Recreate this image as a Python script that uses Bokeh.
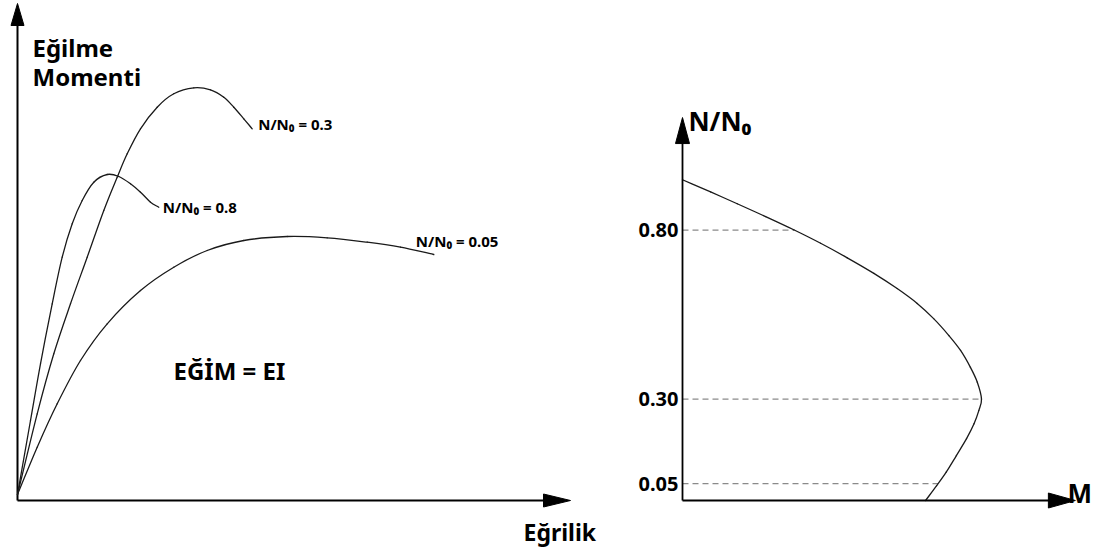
import numpy as np
from bokeh.plotting import figure
from bokeh.layouts import row
from bokeh.core.properties import value
from bokeh.embed import file_html
from bokeh.resources import INLINE

# ---------------- data: left panel (moment - curvature, schematic units) -------------
curv_03 = [0, 0.197, 0.363, 0.53, 0.697, 0.863, 0.997, 1.097, 1.23, 1.397, 1.563, 1.763, 1.93, 2.063, 2.163, 2.263, 2.347]
mom_03 = [0, 0.807, 1.407, 1.907, 2.373, 2.84, 3.173, 3.407, 3.657, 3.873, 4.007, 4.067, 4.047, 3.973, 3.873, 3.757, 3.657]

curv_08 = [0, 0.13, 0.23, 0.347, 0.447, 0.547, 0.647, 0.763, 0.897, 1.013, 1.13, 1.23, 1.33, 1.413]
mom_08 = [0, 0.74, 1.307, 1.907, 2.373, 2.707, 2.94, 3.123, 3.20, 3.18, 3.107, 3.023, 2.923, 2.873]

curv_005 = [0, 0.197, 0.397, 0.63, 0.897, 1.23, 1.563, 1.897, 2.263, 2.697, 3.097, 3.497, 3.83, 4.163]
mom_005 = [0, 0.473, 0.907, 1.34, 1.707, 2.04, 2.273, 2.44, 2.54, 2.58, 2.567, 2.523, 2.473, 2.40]

curve_labels = ["N/N₀ = 0.3", "N/N₀ = 0.8", "N/N₀ = 0.05"]

# ---------------- data: right panel (N/N0 - M interaction, schematic) ----------------
m_vals = [0, 0.094, 0.183, 0.278, 0.372, 0.462, 0.551, 0.640, 0.718, 0.785, 0.840, 0.891,
          0.930, 0.963, 0.986, 1.0, 0.991, 0.975, 0.950, 0.916, 0.882, 0.850, 0.813]
n_vals = [0.949, 0.913, 0.878, 0.840, 0.801, 0.761, 0.718, 0.672, 0.627, 0.583, 0.538, 0.488,
          0.444, 0.394, 0.350, 0.30, 0.266, 0.227, 0.183, 0.133, 0.084, 0.044, 0.0]
n_ticks = [0.05, 0.30, 0.80]
n_tick_labels = ["0.05", "0.30", "0.80"]

FONT = value("Noto Sans")
INK = "#1a1a1a"


def smooth_line(p, xs, ys, **kw):
    """Draw a smooth curve through the given points (Catmull-Rom as cubic Beziers)."""
    xs = np.asarray(xs, float)
    ys = np.asarray(ys, float)
    n = len(xs)
    xp = np.concatenate([[2 * xs[0] - xs[1]], xs, [2 * xs[-1] - xs[-2]]])
    yp = np.concatenate([[2 * ys[0] - ys[1]], ys, [2 * ys[-1] - ys[-2]]])
    cx0 = xs[:-1] + (xp[2:n + 1] - xp[0:n - 1]) / 6
    cy0 = ys[:-1] + (yp[2:n + 1] - yp[0:n - 1]) / 6
    cx1 = xs[1:] - (xp[3:n + 2] - xp[1:n]) / 6
    cy1 = ys[1:] - (yp[3:n + 2] - yp[1:n]) / 6
    p.bezier(x0=xs[:-1], y0=ys[:-1], x1=xs[1:], y1=ys[1:], cx0=cx0, cy0=cy0,
             cx1=cx1, cy1=cy1, line_cap="round", **kw)


def head(p, tx, ty, direction, length_px, width_px, sx, sy):
    if direction == "up":
        xs = [tx, tx - width_px / 2 / sx, tx + width_px / 2 / sx]
        ys = [ty, ty - length_px / sy, ty - length_px / sy]
    else:
        xs = [tx, tx - length_px / sx, tx - length_px / sx]
        ys = [ty, ty + width_px / 2 / sy, ty - width_px / 2 / sy]
    p.patch(xs, ys, fill_color="black", line_color="black", line_width=1)


def new_fig(w, h, xr, yr):
    f = figure(width=w, height=h, x_range=xr, y_range=yr, output_backend="svg",
               toolbar_location=None, x_axis_location=None, y_axis_location=None,
               min_border=0, tools="")
    f.grid.visible = False
    f.outline_line_color = None
    f.background_fill_color = "white"
    f.border_fill_color = "white"
    return f


# ---------------- left figure ----------------
LSX, LSY = 100.0, 100.0
p1 = new_fig(608, 548, (-0.17, 5.91), (-0.54, 4.94))

ax_y0 = -0.06
ytip, xtip = 4.91, 5.53
p1.line([0, 0], [ax_y0, ytip - 20 / LSY], line_color="black", line_width=2)
p1.line([0, xtip - 24 / LSX], [ax_y0, ax_y0], line_color="black", line_width=2)
head(p1, 0, ytip, "up", 22, 13, LSX, LSY)
head(p1, xtip, ax_y0, "right", 27, 13, LSX, LSY)

curves = [(curv_03, mom_03), (curv_08, mom_08), (curv_005, mom_005)]
for cx, cy in curves:
    smooth_line(p1, cx, cy, line_color=INK, line_width=1.3)

label_off = [(6, 5), (4, 0), (-18, 14)]  # px offsets from curve end
lx = [c[0][-1] + o[0] / LSX for c, o in zip(curves, label_off)]
ly = [c[1][-1] + o[1] / LSY for c, o in zip(curves, label_off)]
p1.text(x=lx, y=ly, text=curve_labels, text_font=FONT, text_font_style="bold",
        text_font_size="15px", text_baseline="middle", text_align="left", text_color="black")

p1.text(x=[0.15, 0.15], y=[4.47, 4.18], text=["Eğilme", "Momenti"], text_font=FONT,
        text_font_style="bold", text_font_size="24px", text_baseline="alphabetic",
        text_align="left", text_color="black")
p1.text(x=[1.56], y=[1.24], text=["EĞİM = EI"], text_font=FONT, text_font_style="bold",
        text_font_size="24px", text_baseline="middle", text_align="left", text_color="black")
p1.text(x=[5.06], y=[-0.375], text=["Eğrilik"], text_font=FONT, text_font_style="bold",
        text_font_size="23px", text_baseline="alphabetic", text_align="left", text_color="black")

# ---------------- right figure ----------------
RSX, RSY = 299.0, 338.0
p2 = new_fig(496, 548, (-0.2475, 1.4114), (-0.1420, 1.4793))

r_ytip, r_xtip = 1.133, 1.314


def crossing(level, xs, ys):
    best = None
    for i in range(len(xs) - 1):
        a, b = ys[i], ys[i + 1]
        if (a - level) * (b - level) <= 0 and a != b:
            t = (level - a) / (b - a)
            mx = xs[i] + t * (xs[i + 1] - xs[i])
            best = mx if best is None else max(best, mx)
    return best if best is not None else max(xs)


ends = [crossing(n, m_vals, n_vals) for n in n_ticks]
p2.segment(x0=[0] * len(n_ticks), y0=n_ticks, x1=ends, y1=n_ticks, line_color="#8a8a8a",
           line_width=1.2, line_dash="6 4")

smooth_line(p2, m_vals, n_vals, line_color=INK, line_width=1.3)

p2.line([0, 0], [0, r_ytip - 24 / RSY], line_color="black", line_width=1.8)
p2.line([0, r_xtip - 25 / RSX], [0, 0], line_color="black", line_width=1.8)
head(p2, 0, r_ytip, "up", 26, 14, RSX, RSY)
head(p2, r_xtip, 0, "right", 27, 15, RSX, RSY)

p2.text(x=[-4 / RSX] * 3, y=n_ticks, text=n_tick_labels, text_font=FONT, text_font_style="bold",
        text_font_size="20px", text_baseline="middle", text_align="right", text_color="black")
p2.text(x=[0.02], y=[1.124], text=["N/N₀"], text_font=FONT, text_font_style="bold",
        text_font_size="26px", text_baseline="alphabetic", text_align="left", text_color="black")
p2.text(x=[1.288], y=[0.021], text=["M"], text_font=FONT, text_font_style="bold",
        text_font_size="26px", text_baseline="alphabetic", text_align="left", text_color="black")

layout = row(p1, p2, spacing=0)
open("out.html", "w").write(file_html(layout, INLINE))
